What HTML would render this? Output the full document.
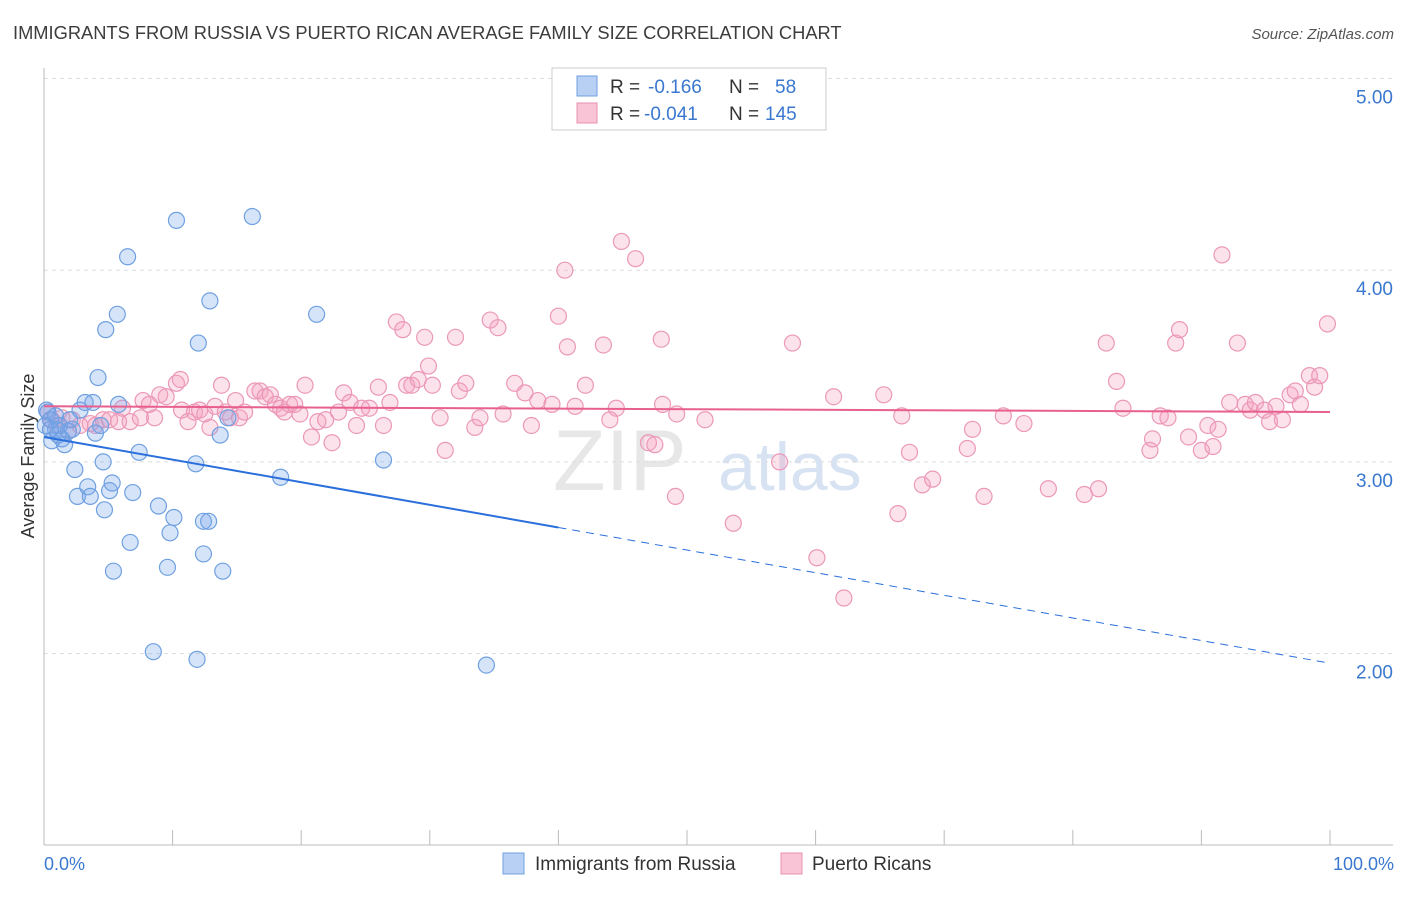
<!DOCTYPE html>
<html><head><meta charset="utf-8"><style>
body{margin:0;background:#fff;font-family:"Liberation Sans",sans-serif;}
svg text{font-family:"Liberation Sans",sans-serif;}
</style></head><body>
<svg id="chart" width="1406" height="892" viewBox="0 0 1406 892" xmlns="http://www.w3.org/2000/svg">
<text x="13" y="39" font-size="18.3" fill="#3c3c3c">IMMIGRANTS FROM RUSSIA VS PUERTO RICAN AVERAGE FAMILY SIZE CORRELATION CHART</text>
<text x="1394" y="39" font-size="15" fill="#555" font-style="italic" text-anchor="end">Source: ZipAtlas.com</text>
<g>
<text x="553" y="490" font-size="86" fill="#d8d8d8" font-family="Liberation Serif" opacity="0.6">ZIP</text>
<text x="718" y="490" font-size="68" fill="#b8cde8" opacity="0.55">atlas</text>
</g>
<g id="grid"></g>
<g id="axes"></g>
<g id="marks"></g>
<g>
<rect x="552" y="68" width="274" height="62" fill="#fff" stroke="#ccc"/>
<rect x="577" y="76" width="20" height="20" fill="#b8d0f4" stroke="#6fa0e0"/>
<text x="610" y="93" font-size="19" fill="#333">R = </text>
<text x="648" y="93" font-size="19" fill="#3a78d0">-0.166</text>
<text x="729" y="93" font-size="19" fill="#333">N = </text>
<text x="775" y="93" font-size="19" fill="#3a78d0">58</text>
<rect x="577" y="103" width="20" height="20" fill="#f8c4d6" stroke="#e890b0"/>
<text x="610" y="120" font-size="19" fill="#333">R = </text>
<text x="644" y="120" font-size="19" fill="#3a78d0">-0.041</text>
<text x="729" y="120" font-size="19" fill="#333">N = </text>
<text x="765" y="120" font-size="19" fill="#3a78d0">145</text>
</g>
<g>
<rect x="503" y="853" width="21" height="21" fill="#b8d0f4" stroke="#6fa0e0"/>
<text x="535" y="870" font-size="19" fill="#333">Immigrants from Russia</text>
<rect x="781" y="853" width="21" height="21" fill="#f8c4d6" stroke="#e890b0"/>
<text x="812" y="870" font-size="19" fill="#333">Puerto Ricans</text>
</g>
<text transform="translate(34,456) rotate(-90)" font-size="18" fill="#333" text-anchor="middle">Average Family Size</text>
<text x="44" y="870" font-size="18" fill="#3a78d0">0.0%</text>
<text x="1394" y="870" font-size="18" fill="#3a78d0" text-anchor="end">100.0%</text>
</svg>
<script>
const yTicks=[2,3,4,5];
const yTickLabels=["2.00","3.00","4.00","5.00"];
const xTicks=[0,10,20,30,40,50,60,70,80,90,100];
const blueX=[0.3,0.5,0.6,0.9,1.1,1.4,1.6,1.9,2.2,2.4,2.6,2.8,3.2,3.4,3.6,3.8,4.0,4.2,4.4,4.6,4.7,4.8,5.1,5.3,5.4,5.7,5.8,6.5,6.7,6.9,7.4,8.5,8.9,9.6,9.8,10.1,10.3,11.8,11.9,12.0,12.4,12.4,12.8,12.9,13.7,13.9,14.3,16.2,18.4,21.2,26.4,34.4,0.1,1.2,2.0,0.2,0.9,0.5];
const blueY=[3.26,3.22,3.11,3.17,3.14,3.12,3.09,3.16,3.17,2.96,2.82,3.27,3.31,2.87,2.82,3.31,3.15,3.44,3.19,3.00,2.75,3.69,2.85,2.89,2.43,3.77,3.30,4.07,2.58,2.84,3.05,2.01,2.77,2.45,2.63,2.71,4.26,2.99,1.97,3.62,2.52,2.69,2.69,3.84,3.14,2.43,3.23,4.28,2.92,3.77,3.01,1.94,3.19,3.19,3.22,3.27,3.24,3.17];
const pinkX=[0.3,0.6,1.0,1.4,1.9,2.2,2.8,3.6,4.0,4.6,5.1,5.8,6.1,6.7,7.5,7.7,8.2,8.6,9.0,9.5,10.3,10.6,10.7,11.2,11.7,12.1,12.5,12.9,13.3,13.8,14.1,14.5,14.9,15.2,15.6,16.4,16.8,17.2,17.6,18.0,18.4,18.7,19.1,19.5,19.9,20.3,20.8,21.3,21.9,22.4,22.9,23.3,23.8,24.3,24.7,25.3,26.0,26.4,26.9,27.4,27.9,28.2,28.6,29.1,29.6,29.9,30.2,30.8,31.2,32.0,32.3,32.8,33.5,33.9,34.7,35.3,35.7,36.6,37.4,37.9,38.4,39.5,40.0,40.5,40.7,41.3,42.1,43.5,44.5,44.9,46.0,44.0,47.0,47.5,48.0,48.1,49.1,49.2,51.4,53.6,57.2,58.2,60.1,61.4,62.2,65.3,66.7,66.4,67.3,68.3,69.1,71.8,72.2,73.1,74.6,76.2,78.1,80.9,82.0,82.6,83.4,83.9,86.0,86.2,86.8,87.4,88.0,88.3,89.0,90.0,90.5,90.9,91.3,91.6,92.2,92.8,93.4,93.8,94.2,94.9,95.3,95.8,96.3,96.9,97.3,97.7,98.4,98.8,99.2,99.8];
const pinkY=[3.26,3.22,3.19,3.23,3.16,3.22,3.19,3.20,3.19,3.22,3.22,3.21,3.28,3.21,3.23,3.32,3.30,3.23,3.35,3.34,3.41,3.43,3.27,3.21,3.26,3.27,3.25,3.18,3.29,3.40,3.26,3.23,3.32,3.23,3.26,3.37,3.37,3.34,3.35,3.30,3.28,3.26,3.30,3.30,3.25,3.40,3.13,3.21,3.22,3.10,3.26,3.36,3.31,3.19,3.28,3.28,3.39,3.19,3.31,3.73,3.69,3.40,3.40,3.43,3.65,3.50,3.40,3.23,3.06,3.65,3.37,3.41,3.18,3.23,3.74,3.70,3.25,3.41,3.36,3.19,3.32,3.30,3.76,4.00,3.60,3.29,3.40,3.61,3.28,4.15,4.06,3.22,3.10,3.09,3.64,3.30,2.82,3.25,3.22,2.68,3.00,3.62,2.50,3.34,2.29,3.35,3.24,2.73,3.05,2.88,2.91,3.07,3.17,2.82,3.24,3.20,2.86,2.83,2.86,3.62,3.42,3.28,3.06,3.12,3.24,3.23,3.62,3.69,3.13,3.06,3.19,3.08,3.17,4.08,3.31,3.62,3.30,3.27,3.31,3.27,3.21,3.29,3.22,3.35,3.37,3.30,3.45,3.39,3.45,3.72];
const blueTrend=[3.13,1.95];
const pinkTrend=[3.29,3.26];
const blueSolidEnd=40;

const X0=44,X1=1330,YT=78.5,PX=191.7;
const xs=v=>X0+(X1-X0)*v/100;
const ys=v=>YT+(5-v)*PX;
const NS="http://www.w3.org/2000/svg";
function mk(tag,parent,attrs){const e=document.createElementNS(NS,tag);for(const k in attrs)e.setAttribute(k,attrs[k]);parent.appendChild(e);return e;}
const grid=document.getElementById('grid'),axes=document.getElementById('axes'),marks=document.getElementById('marks');
yTicks.forEach((t,i)=>{
 const l=mk('line',grid,{x1:44,x2:1393,y1:ys(t),y2:ys(t),stroke:'#ddd','stroke-dasharray':'4,4'});
 
 
 const tx=mk('text',axes,{x:1393,y:ys(t)+25,'font-size':19,fill:'#3a78d0','text-anchor':'end'});
 tx.textContent=yTickLabels[i];
 
 
});
const ax=mk('line',axes,{x1:44,x2:44,y1:68,y2:845,stroke:'#bbb'});


const bx=mk('line',axes,{x1:44,x2:1393,y1:845,y2:845,stroke:'#bbb'});


xTicks.forEach(t=>{
 const l=mk('line',axes,{x1:xs(t),x2:xs(t),y1:830,y2:845,stroke:'#bbb'});
 
 
});
pinkX.forEach((x,i)=>{
 const c=mk('circle',marks,{cx:xs(x),cy:ys(pinkY[i]),r:8,fill:'rgba(244,160,190,0.3)',stroke:'#eb98b8','stroke-width':1.2});
 
 
});
blueX.forEach((x,i)=>{
 const c=mk('circle',marks,{cx:xs(x),cy:ys(blueY[i]),r:8,fill:'rgba(120,165,235,0.3)',stroke:'#6fa0e0','stroke-width':1.2});
 
 
});
const bAt=p=>blueTrend[0]+(blueTrend[1]-blueTrend[0])*p/100;
const bl=mk('line',marks,{x1:xs(0),y1:ys(bAt(0)),x2:xs(blueSolidEnd),y2:ys(bAt(blueSolidEnd)),stroke:'#2a6fdb','stroke-width':2});


const bd=mk('line',marks,{x1:xs(blueSolidEnd),y1:ys(bAt(blueSolidEnd)),x2:xs(100),y2:ys(bAt(100)),stroke:'#2a6fdb','stroke-width':1,'stroke-dasharray':'8,6'});


const pl=mk('line',marks,{x1:xs(0),y1:ys(pinkTrend[0]),x2:xs(100),y2:ys(pinkTrend[1]),stroke:'#e8608e','stroke-width':2});


</script>
</body></html>
